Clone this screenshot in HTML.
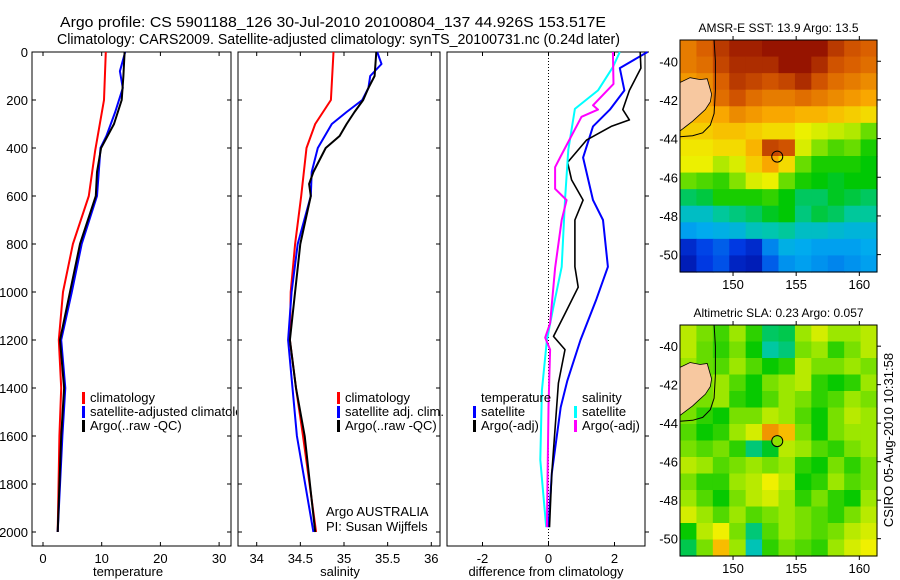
<!DOCTYPE html>
<html><head><meta charset="utf-8">
<style>
html,body{margin:0;padding:0;background:#fff;}
svg{display:block;font-family:"Liberation Sans",sans-serif;}
text{fill:#000;}
</style></head>
<body>
<svg id="fig" width="900" height="580" viewBox="0 0 900 580">
<defs><clipPath id="p1clip"><rect x="32" y="52" width="205" height="500"/></clipPath></defs>
<text x="60" y="27" font-size="14.5" textLength="546" lengthAdjust="spacingAndGlyphs">Argo profile: CS 5901188_126 30-Jul-2010 20100804_137 44.926S 153.517E</text>
<text x="57" y="44" font-size="14.5" textLength="563" lengthAdjust="spacingAndGlyphs">Climatology: CARS2009. Satellite-adjusted climatology: synTS_20100731.nc (0.24d later)</text>
</svg>
<script>
// ---------- profile data (depth in m) ----------
const tClimDepth=[0,200,410,600,800,1000,1200,1400,1600,2000];
const tClimVal=[10.7,10.4,8.9,7.8,5.1,3.4,2.7,3.1,2.8,2.5];
const tArgoDepth=[0,100,200,300,400,500,600,800,1000,1200,1400,1600,2000];
const tArgoVal=[13.9,13.7,13.4,12.1,9.9,9.2,9.0,6.3,4.6,2.9,3.6,3.1,2.5];
const tSatDepth=[0,80,150,250,350,400,600,800,1000,1200,1400,1600,2000];
const tSatVal=[14.0,13.1,13.6,12.3,10.8,9.8,9.2,6.6,4.9,3.1,3.8,3.3,2.5];

const sClimDepth=[0,200,300,400,600,800,1000,1200,1400,1600,2000];
const sClimVal=[34.88,34.85,34.67,34.57,34.51,34.44,34.39,34.38,34.45,34.53,34.68];
const sArgoDepth=[0,100,150,200,250,300,350,400,500,550,600,800,1000,1200,1400,1600,2000];
const sArgoVal=[35.37,35.35,35.28,35.22,35.12,35.03,34.95,34.79,34.65,34.6,34.62,34.5,34.44,34.38,34.45,34.55,34.67];
const sSatDepth=[0,50,100,150,200,250,300,400,500,600,800,1000,1200,1400,1600,2000];
const sSatVal=[35.38,35.43,35.3,35.28,35.21,35.03,34.86,34.7,34.63,34.62,34.47,34.4,34.36,34.41,34.46,34.65];

const dTSatDepth=[0,67,160,240,310,440,617,700,895,1030,1200,1370,1480,1755,1980];
const dTSatVal=[3.0,2.16,2.3,1.86,1.35,1.05,1.35,1.65,1.8,1.45,0.97,0.57,0.37,0.1,0.0];
const dTArgoDepth=[0,67,160,240,283,310,367,460,533,617,700,895,980,1090,1185,1240,1380,1755,1980];
const dTArgoVal=[2.78,2.8,2.45,2.25,2.45,1.9,1.15,0.58,0.7,1.05,0.8,0.8,0.9,0.5,0.15,0.5,0.3,0.1,0.03];
const dSSatDepth=[0,63,160,237,408,617,895,1060,1200,1410,1700,1980];
const dSSatVal=[2.16,1.95,1.5,0.8,0.6,0.5,0.4,0.15,-0.05,-0.2,-0.25,-0.07];
const dSArgoDepth=[0,133,222,240,270,440,480,570,617,700,900,1130,1190,1240,1480,1980];
const dSArgoVal=[1.95,1.97,1.35,1.5,1.0,0.35,0.2,0.2,0.55,0.4,0.2,0.05,-0.1,0.05,0.0,-0.05];

const depthTicks=[0,200,400,600,800,1000,1200,1400,1600,1800,2000];
const tTicks=[0,10,20,30];
const sTicks=[34,34.5,35,35.5,36];
const sTickLabels=["34","34.5","35","35.5","36"];
const dTicks=[-2,0,2];

// ---------- map data ----------
const sstGrid=[
[14.2,14.4,14.7,14.9,14.9,15.0,15.2,15.3,15.0,14.7,14.5,14.4],
[14.2,14.3,14.6,14.8,14.8,14.8,15.0,15.2,14.8,14.5,14.4,14.3],
[14.0,14.1,14.4,14.7,14.6,14.5,14.6,14.8,14.5,14.3,14.2,14.1],
[14.0,14.0,14.3,14.5,14.3,14.2,14.2,14.3,14.2,14.1,14.0,13.9],
[13.8,13.8,13.9,14.1,14.0,13.9,13.9,13.8,13.8,13.7,13.6,13.5],
[13.6,13.6,13.7,13.7,13.6,13.5,13.5,13.3,13.2,13.1,13.0,12.7],
[13.4,13.4,13.5,13.5,13.8,14.6,14.5,13.2,12.8,12.6,12.7,12.4],
[13.3,13.3,13.0,13.2,13.6,13.9,13.5,12.7,12.4,12.4,12.4,12.3],
[12.7,12.6,12.5,12.8,13.2,13.3,12.7,12.4,12.3,12.2,12.3,12.3],
[12.0,12.1,12.4,12.4,12.4,12.5,12.3,12.0,12.0,12.2,12.1,12.0],
[11.5,11.5,11.8,11.9,12.0,12.2,12.3,11.9,12.1,12.0,11.8,11.8],
[11.0,11.1,11.2,11.3,11.6,11.7,11.8,11.5,11.5,11.4,11.3,11.3],
[10.0,10.3,10.5,10.2,10.0,10.8,11.2,11.1,11.0,11.0,11.0,11.1],
[9.8,10.2,10.4,9.9,9.8,10.5,10.9,11.0,10.9,10.8,10.9,11.0]];
const slaGrid=[
[0.10,0.06,0.03,0.08,0.02,-0.05,-0.04,0.08,0.12,0.08,0.08,0.10],
[0.10,0.05,0.02,0.06,0.00,-0.08,-0.06,0.06,0.08,0.02,0.06,0.10],
[0.08,0.05,0.04,0.08,0.04,0.00,0.02,0.10,0.06,0.06,0.08,0.06],
[0.06,0.06,0.08,0.04,0.00,0.06,0.08,0.10,0.02,0.00,0.02,0.08],
[0.06,0.06,0.08,0.02,0.00,0.04,0.08,0.06,0.02,0.04,0.08,0.06],
[0.06,0.02,0.00,0.06,0.06,0.10,0.08,0.04,0.00,0.06,0.10,0.08],
[0.04,0.00,0.02,0.08,0.12,0.24,0.20,0.06,0.00,0.06,0.08,0.08],
[0.06,0.04,0.06,0.02,-0.06,-0.02,0.10,0.08,0.04,0.02,0.06,0.08],
[0.10,0.08,0.04,0.06,0.08,0.06,0.08,0.02,0.00,0.06,0.02,0.06],
[0.06,0.02,0.02,0.08,0.10,0.14,0.10,0.00,0.02,0.08,0.04,0.06],
[0.08,0.04,0.00,0.06,0.10,0.12,0.08,0.02,0.06,0.02,0.00,0.08],
[0.12,0.08,0.04,0.08,0.04,0.06,0.08,0.06,0.04,0.02,0.06,0.10],
[0.00,0.10,0.14,0.06,-0.06,0.04,0.08,0.06,0.04,0.06,0.10,0.12],
[-0.04,0.06,0.20,0.08,-0.10,0.02,0.06,0.04,0.02,0.08,0.12,0.14]];
const lonTicks=[150,155,160];
const latTicks=[-40,-42,-44,-46,-48,-50];
const landLon=[145.8,146.6,147.4,147.95,148.3,148.2,147.8,147.3,146.8,146.2,145.8];
const landLat=[-41.1,-40.85,-40.95,-40.9,-41.7,-42.1,-42.5,-42.8,-43.1,-43.4,-43.6];
const coastLon=[148.5,148.6,148.6,148.5,148.2,147.6,146.8,145.8];
const coastLat=[-38.9,-40.0,-41.5,-42.7,-43.3,-43.7,-43.85,-43.9];
const argoLon=153.5, argoLat=-44.93;

const NS='http://www.w3.org/2000/svg';
const svg=document.getElementById('fig');
function mk(tag,attrs,parent){const e=document.createElementNS(NS,tag);for(const k in attrs)e.setAttribute(k,attrs[k]);(parent||svg).appendChild(e);return e;}

const dTop=52, dScale=0.24;
function yD(d){return dTop+d*dScale;}
const panels=[
 {name:'temperature',x0:32,x1:231,f:v=>43+v*5.87,ticks:tTicks,labels:tTicks.map(String),ylabels:true},
 {name:'salinity',x0:238,x1:440,f:v=>256.7+(v-34)*87.3,ticks:sTicks,labels:sTickLabels,ylabels:false},
 {name:'difference',x0:447,x1:645,f:v=>548.5+v*33,ticks:dTicks,labels:dTicks.map(String),ylabels:false}
];
const pBot=546;
panels.forEach((p,i)=>{
 const g=mk('g',{});
 
 
 const fr=mk('rect',{x:p.x0,y:dTop,width:p.x1-p.x0,height:pBot-dTop,fill:'none',stroke:'#000','stroke-width':1},g);
 
 
 depthTicks.forEach(d=>{
  const y=yD(d);
  if(i<2){mk('line',{x1:p.x0,x2:p.x0+4,y1:y,y2:y,stroke:'#000'},g);mk('line',{x1:p.x1,x2:p.x1-4,y1:y,y2:y,stroke:'#000'},g);}
  else{mk('line',{x1:p.x1,x2:p.x1+4,y1:y,y2:y,stroke:'#000'},g);}
  if(p.ylabels){const t=mk('text',{x:28,y:y+5,'font-size':13,'text-anchor':'end'},g);t.textContent=String(d);
   }
 });
 p.ticks.forEach((v,k)=>{
  const x=p.f(v);
  mk('line',{x1:x,x2:x,y1:pBot,y2:pBot-4,stroke:'#000'},g);
  mk('line',{x1:x,x2:x,y1:dTop,y2:dTop+4,stroke:'#000'},g);
  const t=mk('text',{x:x,y:pBot+17,'font-size':13,'text-anchor':'middle'},g);t.textContent=p.labels[k];
  
 });
});
// zero dotted line
const zl=mk('line',{x1:panels[2].f(0),x2:panels[2].f(0),y1:dTop,y2:pBot,stroke:'#000','stroke-dasharray':'1,2'});


function line(p,depths,vals,color,w,name){
 const pts=depths.map((d,k)=>p.f(vals[k]).toFixed(1)+','+yD(d).toFixed(1)).join(' ');
 const e=mk('polyline',{points:pts,fill:'none',stroke:color,'stroke-width':w,'stroke-linejoin':'round'});
 
 
}
line(panels[0],tClimDepth,tClimVal,'#f00',2,'temperature-climatology-line');
line(panels[0],tSatDepth,tSatVal,'#00f',2,'temperature-satellite-line');
line(panels[0],tArgoDepth,tArgoVal,'#000',2,'temperature-argo-line');
line(panels[1],sClimDepth,sClimVal,'#f00',2,'salinity-climatology-line');
line(panels[1],sSatDepth,sSatVal,'#00f',2,'salinity-satellite-line');
line(panels[1],sArgoDepth,sArgoVal,'#000',2,'salinity-argo-line');
line(panels[2],dTSatDepth,dTSatVal,'#00f',2,'diff-temperature-satellite-line');
line(panels[2],dTArgoDepth,dTArgoVal,'#000',1.6,'diff-temperature-argo-line');
line(panels[2],dSSatDepth,dSSatVal,'#0ff',2,'diff-salinity-satellite-line');
line(panels[2],dSArgoDepth,dSArgoVal,'#f0f',2,'diff-salinity-argo-line');

function txt(x,y,s,name,size,anchor){const t=mk('text',{x:x,y:y,'font-size':size||13,'text-anchor':anchor||'start'});t.textContent=s;
 return t;}
function leg(x,y,color,label,name){
 const r=mk('rect',{x:x,y:y-10,width:3,height:12,fill:color});
 
 return txt(x+8,y,label,name+'-label');
}
leg(82,402,'#f00','climatology','legend-temp-climatology');
leg(82,416,'#00f','satellite-adjusted climatology','legend-temp-satellite').setAttribute('clip-path','url(#p1clip)');
leg(82,430,'#000','Argo(..raw -QC)','legend-temp-argo');
leg(337,402,'#f00','climatology','legend-sal-climatology');
leg(337,416,'#00f','satellite adj. clim.','legend-sal-satellite');
leg(337,430,'#000','Argo(..raw -QC)','legend-sal-argo');
txt(481,402,'temperature','legend-diff-temperature-heading');
leg(473,416,'#00f','satellite','legend-diff-temp-satellite');
leg(473,430,'#000','Argo(-adj)','legend-diff-temp-argo');
txt(582,402,'salinity','legend-diff-salinity-heading');
leg(574,416,'#0ff','satellite','legend-diff-sal-satellite');
leg(574,430,'#f0f','Argo(-adj)','legend-diff-sal-argo');
txt(326,516,'Argo AUSTRALIA','agency-label');
txt(326,531,'PI: Susan Wijffels','pi-label');
txt(128,576,'temperature','x-axis-title-temperature',13,'middle');
txt(340,576,'salinity','x-axis-title-salinity',13,'middle');
txt(546,576,'difference from climatology','x-axis-title-difference',13,'middle');

// ---------- maps ----------
const stops=[[0,0,0,140],[0.15,0,60,230],[0.3,0,170,240],[0.42,0,200,170],[0.52,0,200,0],[0.62,150,230,0],[0.7,240,240,0],[0.8,250,170,0],[0.9,215,90,0],[1,150,20,0]];
function cmap(t){t=Math.max(0,Math.min(1,t));for(let i=1;i<stops.length;i++){if(t<=stops[i][0]){const a=stops[i-1],b=stops[i],u=(t-a[0])/(b[0]-a[0]);
 return 'rgb('+[1,2,3].map(j=>Math.round(a[j]+u*(b[j]-a[j]))).join(',')+')';}}return 'rgb(150,20,0)';}
const lonMin=145.8,lonMax=161.4,latMax=-38.9,latMin=-50.9;
function drawMap(name,x0,y0,w,h,grid,vmin,vmax,title,fillCircle){
 const g=mk('g',{});
 
 const fx=lon=>x0+(lon-lonMin)/(lonMax-lonMin)*w, fy=lat=>y0+(latMax-lat)/(latMax-latMin)*h;
 const R=grid.length,C=grid[0].length,cw=w/C,ch=h/R;
 grid.forEach((row,r)=>row.forEach((v,c)=>{
  const e=mk('rect',{x:(x0+c*cw).toFixed(2),y:(y0+r*ch).toFixed(2),width:(cw+0.6).toFixed(2),height:(ch+0.6).toFixed(2),fill:cmap((v-vmin)/(vmax-vmin))},g);
  
 }));
 const land=mk('polygon',{points:landLon.map((l,k)=>fx(l).toFixed(1)+','+fy(landLat[k]).toFixed(1)).join(' '),fill:'#f7c8a0',stroke:'#000','stroke-width':0.8},g);
 
 const cl=mk('polyline',{points:coastLon.map((l,k)=>fx(l).toFixed(1)+','+fy(coastLat[k]).toFixed(1)).join(' '),fill:'none',stroke:'#000','stroke-width':1},g);
 
 const ci=mk('circle',{cx:fx(argoLon),cy:fy(argoLat),r:5.5,fill:fillCircle||'none',stroke:'#000','stroke-width':1},g);
 
 const fr=mk('rect',{x:x0,y:y0,width:w,height:h,fill:'none',stroke:'#000'},g);
 
 lonTicks.forEach(l=>{const x=fx(l);mk('line',{x1:x,x2:x,y1:y0+h,y2:y0+h+4,stroke:'#000'},g);mk('line',{x1:x,x2:x,y1:y0,y2:y0-4,stroke:'#000'},g);
  const t=mk('text',{x:x,y:y0+h+17,'font-size':13,'text-anchor':'middle'},g);t.textContent=String(l);
  });
 latTicks.forEach(l=>{const y=fy(l);mk('line',{x1:x0+w,x2:x0+w+4,y1:y,y2:y,stroke:'#000'},g);
  const t=mk('text',{x:x0-2,y:y+5,'font-size':13,'text-anchor':'end'},g);t.textContent=String(l);
  });
 const tt=mk('text',{x:x0+w/2,y:y0-8,'font-size':12,'text-anchor':'middle'},g);tt.textContent=title;
 
}
drawMap('sst',680,40,197,232,sstGrid,9.4,15.0,'AMSR-E SST: 13.9 Argo: 13.5');
drawMap('sla',680,325,197,231,slaGrid,-0.42,0.38,'Altimetric SLA: 0.23 Argo: 0.057','#8fe000');
const st=mk('text',{x:893,y:440,'font-size':13,'text-anchor':'middle',transform:'rotate(-90 893 440)'});
st.textContent='CSIRO 05-Aug-2010 10:31:58';

</script>
</body></html>
